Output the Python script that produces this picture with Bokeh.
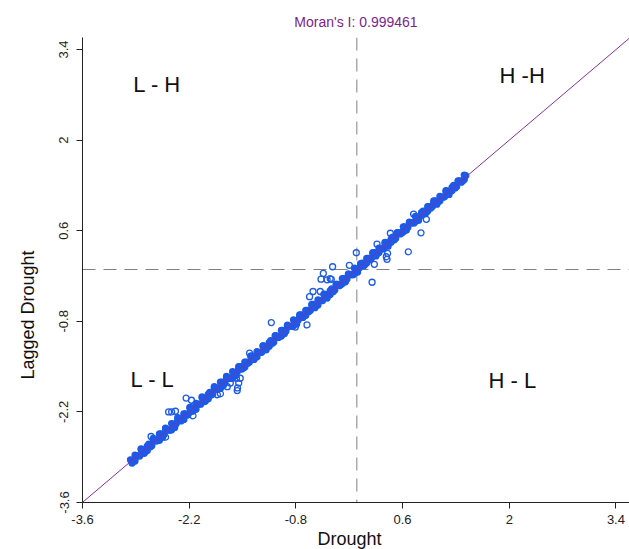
from bokeh.plotting import figure
from bokeh.models import Range1d, FixedTicker, Span, Slope, Label, Title
from bokeh.embed import file_html
from bokeh.resources import INLINE

# ---------------- data ----------------
moran_i = 0.999461
title_text = "Moran's I: 0.999461"
x_label = "Drought"
y_label = "Lagged Drought"
tick_values = [-3.6, -2.2, -0.8, 0.6, 2, 3.4]
tick_labels = ["-3.6", "-2.2", "-0.8", "0.6", "2", "3.4"]
quadrant_names = ["L - H", "H -H", "L - L", "H - L"]

# dense band of observations (drought, lagged drought)
band_x = [-2.97, -2.93, -2.89, -2.85, -2.81, -2.77, -2.73, -2.69, -2.65, -2.61,
          -2.57, -2.53, -2.49, -2.45, -2.41, -2.37, -2.33, -2.29, -2.25, -2.21,
          -2.17, -2.13, -2.09, -2.05, -2.01, -1.97, -1.93, -1.89, -1.85, -1.81,
          -1.77, -1.73, -1.69, -1.65, -1.61, -1.57, -1.53, -1.49, -1.45, -1.41,
          -1.37, -1.33, -1.29, -1.25, -1.21, -1.17, -1.13, -1.09, -1.05, -1.01,
          -0.97, -0.93, -0.89, -0.85, -0.81, -0.77, -0.73, -0.69, -0.65, -0.61,
          -0.57, -0.53, -0.49, -0.45, -0.41, -0.37, -0.33, -0.29, -0.25, -0.21,
          -0.17, -0.13, -0.09, -0.05, -0.01, 0.03, 0.07, 0.11, 0.15, 0.19,
          0.23, 0.27, 0.31, 0.35, 0.39, 0.43, 0.47, 0.51, 0.55, 0.59,
          0.63, 0.67, 0.71, 0.75, 0.79, 0.83, 0.87, 0.91, 0.95, 0.99,
          1.03, 1.07, 1.11, 1.15, 1.19, 1.23, 1.27, 1.31, 1.35, 1.39,
          1.43]
band_y = [-2.94, -2.95, -2.88, -2.88, -2.79, -2.78, -2.70, -2.72, -2.63, -2.63,
          -2.54, -2.55, -2.48, -2.48, -2.39, -2.38, -2.30, -2.32, -2.23, -2.23,
          -2.14, -2.15, -2.08, -2.08, -1.99, -1.98, -1.90, -1.92, -1.83, -1.83,
          -1.74, -1.75, -1.68, -1.68, -1.59, -1.58, -1.50, -1.52, -1.43, -1.43,
          -1.34, -1.35, -1.28, -1.28, -1.19, -1.18, -1.10, -1.12, -1.03, -1.03,
          -0.94, -0.95, -0.88, -0.88, -0.79, -0.78, -0.70, -0.72, -0.63, -0.63,
          -0.54, -0.55, -0.48, -0.48, -0.39, -0.38, -0.30, -0.32, -0.23, -0.23,
          -0.14, -0.15, -0.08, -0.08, 0.01, 0.02, 0.10, 0.08, 0.17, 0.17,
          0.26, 0.25, 0.32, 0.32, 0.41, 0.42, 0.50, 0.48, 0.57, 0.57,
          0.66, 0.65, 0.72, 0.72, 0.81, 0.82, 0.90, 0.88, 0.97, 0.97,
          1.06, 1.05, 1.12, 1.12, 1.21, 1.22, 1.30, 1.28, 1.37, 1.37,
          1.45]

band2_x = [-2.91, -2.83, -2.75, -2.67, -2.59, -2.51, -2.43, -2.35, -2.27, -2.19,
           -2.11, -2.03, -1.95, -1.87, -1.79, -1.71, -1.63, -1.55, -1.47, -1.39,
           -1.31, -1.23, -1.15, -1.07, -0.99, -0.91, -0.83, -0.75, -0.67, -0.59,
           -0.51, -0.43, -0.35, -0.27, -0.19, -0.11, -0.03, 0.05, 0.13, 0.21,
           0.29, 0.37, 0.45, 0.53, 0.61, 0.69, 0.77, 0.85, 0.93, 1.01,
           1.09, 1.17, 1.25, 1.33, 1.41]
band2_y = [-2.96, -2.77, -2.80, -2.61, -2.64, -2.45, -2.48, -2.29, -2.32, -2.13,
           -2.16, -1.97, -2.00, -1.81, -1.84, -1.65, -1.68, -1.50, -1.51, -1.34,
           -1.35, -1.18, -1.19, -1.02, -1.03, -0.86, -0.87, -0.70, -0.71, -0.55,
           -0.55, -0.39, -0.39, -0.23, -0.22, -0.07, -0.06, 0.09, 0.10, 0.25,
           0.26, 0.40, 0.42, 0.56, 0.58, 0.72, 0.74, 0.88, 0.90, 1.04,
           1.06, 1.20, 1.22, 1.36, 1.39]

band3_x = [-2.95, -2.91, -2.87, -2.83, -2.79, -2.75, -2.71, -2.67, -2.63, -2.59,
           -2.55, -2.51, -2.47, -2.43, -2.39, -2.35, -2.31, -2.27, -2.23, -2.19,
           -2.15, -2.11, -2.07, -2.03, -1.99, -1.95, -1.91, -1.87, -1.83, -1.79,
           -1.75, -1.71, -1.67, -1.63, -1.59, -1.55, -1.51, -1.47, -1.43, -1.39,
           -1.35, -1.31, -1.27, -1.23, -1.19, -1.15, -1.11, -1.07, -1.03, -0.99,
           -0.95, -0.91, -0.87, -0.83, -0.79, -0.75, -0.71, -0.67, -0.63, -0.59,
           -0.55, -0.51, -0.47, -0.43, -0.39, -0.35, -0.31, -0.27, -0.23, -0.19,
           -0.15, -0.11, -0.07, -0.03, 0.01, 0.05, 0.09, 0.13, 0.17, 0.21,
           0.25, 0.29, 0.33, 0.37, 0.41, 0.45, 0.49, 0.53, 0.57, 0.61,
           0.65, 0.69, 0.73, 0.77, 0.81, 0.85, 0.89, 0.93, 0.97, 1.01,
           1.05, 1.09, 1.13, 1.17, 1.21, 1.25, 1.29, 1.33, 1.37, 1.41]
band3_y = [-2.99, -2.87, -2.88, -2.78, -2.84, -2.73, -2.74, -2.63, -2.65, -2.54,
           -2.59, -2.47, -2.48, -2.38, -2.44, -2.33, -2.34, -2.23, -2.25, -2.14,
           -2.19, -2.07, -2.08, -1.98, -2.04, -1.93, -1.94, -1.83, -1.85, -1.74,
           -1.79, -1.67, -1.68, -1.58, -1.64, -1.53, -1.54, -1.43, -1.45, -1.34,
           -1.39, -1.27, -1.28, -1.18, -1.24, -1.13, -1.14, -1.03, -1.05, -0.94,
           -0.99, -0.87, -0.88, -0.78, -0.84, -0.73, -0.74, -0.63, -0.65, -0.54,
           -0.59, -0.47, -0.48, -0.38, -0.44, -0.33, -0.34, -0.23, -0.25, -0.14,
           -0.19, -0.07, -0.08, 0.02, -0.04, 0.07, 0.06, 0.17, 0.15, 0.26,
           0.21, 0.33, 0.32, 0.42, 0.36, 0.47, 0.46, 0.57, 0.55, 0.66,
           0.61, 0.73, 0.72, 0.82, 0.76, 0.87, 0.86, 0.97, 0.95, 1.06,
           1.01, 1.13, 1.12, 1.22, 1.16, 1.27, 1.26, 1.37, 1.35, 1.46]

# scattered observations off the band
outlier_x = [0.745, 0.912, 0.842, 0.676, 0.265, -0.007, 0.23, 0.20, -0.318, -0.098,
             -0.44, -0.47, -0.39, -0.35, -0.575, -0.62, -0.48, 0.387, 0.396, 0.44,
             0.404, -1.122, -0.654, -0.807, -1.407, -1.58, -1.53, -1.55, -1.57, -1.565,
             -1.66, -1.70, -1.83, -1.79, -2.24, -2.17, -2.15, -2.47, -2.43, -2.38,
             -2.70, -2.51, -0.335]
outlier_y = [0.856, 0.775, 0.567, 0.274, 0.393, 0.259, 0.08, -0.197, 0.043, 0.065,
             -0.06, -0.15, -0.16, -0.14, -0.34, -0.42, -0.34, 0.197, 0.157, 0.56,
             0.25, -0.82, -0.856, -0.89, -1.292, -1.68, -1.68, -1.755, -1.87, -1.83,
             -1.755, -1.81, -1.935, -1.92, -1.986, -2.02, -2.26, -2.20, -2.20, -2.19,
             -2.58, -2.59, -0.151]

dense_x = band_x + band2_x + band3_x
dense_y = band_y + band2_y + band3_y

# ---------------- figure ----------------
FONT = "Liberation Sans"
BLUE = "#1E5AE8"
p = figure(width=629, height=549,
           x_range=Range1d(-3.6, 3.578), y_range=Range1d(-3.6, 3.585),
           output_backend="svg", toolbar_location=None,
           min_border_left=82, min_border_right=0,
           min_border_top=37, min_border_bottom=47,
           title=title_text)
p.outline_line_color = None
p.background_fill_color = "white"
p.border_fill_color = "white"
p.xgrid.visible = False
p.ygrid.visible = False

p.title.align = "center"
p.title.text_color = "#7B1F8C"
p.title.text_font = FONT
p.title.text_font_size = "14px"
p.title.text_font_style = "normal"
p.title.standoff = 16

for ax in (p.xaxis[0], p.yaxis[0]):
    ax.ticker = FixedTicker(ticks=tick_values)
    ax.major_label_overrides = {v: s for v, s in zip(tick_values, tick_labels)}
    ax.minor_tick_line_color = None
    ax.major_tick_in = 0
    ax.major_tick_out = 6
    ax.axis_line_color = "#222222"
    ax.major_tick_line_color = "#222222"
    ax.major_label_text_font = FONT
    ax.major_label_text_font_size = "13px"
    ax.major_label_text_color = "#222222"

p.xaxis[0].major_label_standoff = 6
p.yaxis[0].major_label_standoff = 8
p.yaxis[0].major_label_orientation = "vertical"

# axis titles
p.add_layout(Title(text=y_label, align="left", offset=123, standoff=33,
                   vertical_align="top",
                   text_font=FONT, text_font_size="18px",
                   text_font_style="normal", text_color="#111111"), "left")
p.add_layout(Title(text=x_label, align="left", offset=235, standoff=0,
                   text_font=FONT, text_font_size="18px",
                   text_font_style="normal", text_color="#111111"), "below")

# reference lines at the means
p.add_layout(Span(location=0, dimension="height", line_color="#808080",
                  line_width=1, line_dash="13 8", level="underlay"))
p.add_layout(Span(location=0, dimension="width", line_color="#808080",
                  line_width=1, line_dash="13 8", level="underlay"))

# observations: the dense overlapping core reads as solid, the rest as rings
p.scatter(dense_x, dense_y, marker="circle", size=6, fill_color=BLUE,
          line_color=BLUE, line_width=1.3)
p.scatter(outlier_x, outlier_y, marker="circle", size=6, fill_color=None,
          line_color=BLUE, line_width=1.3)

p.add_layout(Slope(gradient=moran_i, y_intercept=0, line_color="#8A2E9E",
                   line_width=1))

# quadrant labels
q_pos = [(-2.62, 2.86), (2.17, 3.0), (-2.68, -1.70), (2.04, -1.72)]
for name, (qx, qy) in zip(quadrant_names, q_pos):
    p.add_layout(Label(x=qx, y=qy, text=name, text_font=FONT,
                       text_font_size="22px", text_color="#111111",
                       text_align="center", text_baseline="alphabetic"))

open("out.html", "w").write(file_html(p, INLINE))
